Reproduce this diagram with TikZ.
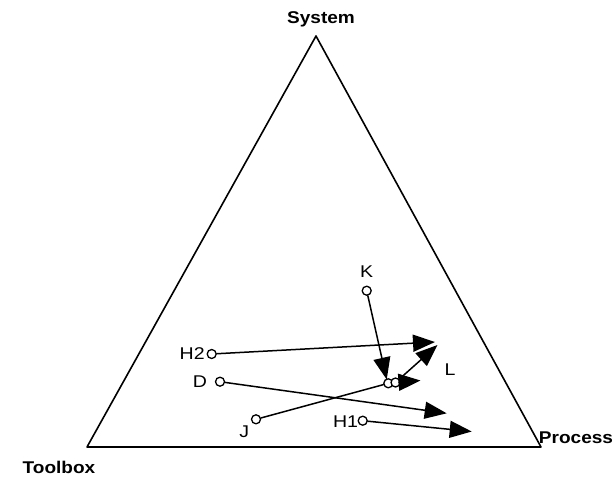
\documentclass[tikz,border=0pt]{standalone}
\usepackage{fontspec}
\setmainfont{Liberation Sans}
\usetikzlibrary{arrows.meta}

\tikzset{
  punto/.style={circle,draw,fill=white,line width=1.3pt,inner sep=0pt,minimum size=9pt},
  vertice/.style={font=\fontsize{17}{19}\selectfont\bfseries,xscale=1.12},
  etiq/.style={font=\fontsize{17}{19}\selectfont,xscale=1.15},
  flecha/.style={line width=1.5pt,-{Triangle[length=22pt,width=17pt]}}
}

\begin{document}
\begin{tikzpicture}[x=1pt,y=-1pt,line cap=round,line join=round]
        \useasboundingbox (0,0) rectangle (615,477);

        % Triángulo
        \draw[line width=1.6pt] (87,447) -- (316,36) -- (541,447) -- cycle;

        % Vértices
        \node[vertice] (sys) at (321,19) {System};
        \node[vertice] (tool) at (59,467) {Toolbox};
        \node[vertice] (proc) at (576,438) {Process};

        % Puntos
        \node[punto] (K) at (366.7,290.7) {};
        \node[punto] (H2) at (211.7,354) {};
        \node[punto] (D) at (220,381.7) {};
        \node[punto] (J) at (256,419.3) {};
        \node[punto] (L) at (388.3,383.3) {};
        \node[punto] (L2) at (395.5,382.5) {};
        \node[punto] (H1) at (362.7,420.7) {};

        % Extremos de las flechas
        \coordinate (kfin) at (386.7,379.5);
        \coordinate (h2fin) at (435,342);
        \coordinate (dfin) at (446.7,413.3);
        \coordinate (lfinA) at (420.5,380.5);
        \coordinate (lfinB) at (437.5,345);
        \coordinate (h1fin) at (471.7,431.5);

        % Trayectorias
        \draw[flecha] (K) -- (kfin);
        \draw[flecha] (H2) -- (h2fin);
        \draw[flecha] (D) -- (dfin);
        \draw[line width=1.5pt] (J) -- (L);
        \draw[flecha] (L2) -- (lfinA);
        \draw[flecha] (L2) -- (lfinB);
        \draw[flecha] (H1) -- (h1fin);

        % Etiquetas
        \node[etiq] (lK) at (366.7,271.7) {K};
        \node[etiq] (lH2) at (192.2,353.3) {H2};
        \node[etiq] (lD) at (200,381.7) {D};
        \node[etiq] (lJ) at (244.3,431.7) {J};
        \node[etiq] (lL) at (450,369.3) {L};
        \node[etiq] (lH1) at (345.5,421.7) {H1};
    \end{tikzpicture}
\end{document}
